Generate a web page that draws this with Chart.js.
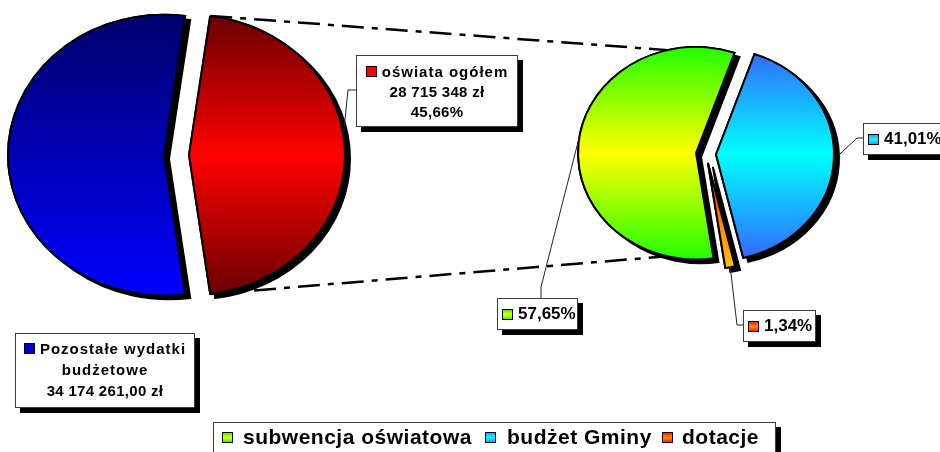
<!DOCTYPE html>
<html>
<head>
<meta charset="utf-8">
<script src="https://cdn.jsdelivr.net/npm/chart.js@4.4.0/dist/chart.umd.min.js"></script>
<style>
body { margin: 0; background: #fff; }
#wrap { position: relative; width: 940px; height: 452px; overflow: hidden; font-family: 'Liberation Sans', Arial, sans-serif; font-weight: bold; color: #000; }
#wrap canvas { position: absolute; left: 0; top: 0; }
.box { position: absolute; box-sizing: border-box; background: #fff; border: 1px solid #3a3a3a; box-shadow: 5px 5px 0 #000; }
.sw { display: inline-block; box-sizing: border-box; width: 11px; height: 11px; border: 1px solid #000; }
.txt { font-size: 15px; line-height: 20px; text-align: center; }
.txt .w { letter-spacing: 1px; }
.txt .n { letter-spacing: 0.3px; }
.pct { display: flex; align-items: center; font-size: 17px; height: 32px; padding-left: 4px; }
.pct .sw { margin-right: 5px; }
.legend { font-size: 21px; letter-spacing: 0.5px; }
.legend span { position: absolute; }
</style>
</head>
<body>
<div id="wrap">
  <canvas id="mainPie" width="940" height="452"></canvas>
  <canvas id="eduPie" width="940" height="452"></canvas>
  <div id="labels"></div>
</div>
<script>
// Values
const mainLabels = ['Pozostałe wydatki budżetowe', 'oświata ogółem'];
const mainValues = [34174261.00, 28715348];
const eduLabels = ['subwencja oświatowa', 'budżet Gminy', 'dotacje'];
const eduShares = [57.65, 41.01, 1.34];

// Slice styling
const mainFills = [
    [[0, '#00006c'], [1, '#0000ff']],
    [[0, '#6a0000'], [0.5, '#ff0000'], [1, '#6a0000']]
];
const eduFills = [
    [[0, '#22ff00'], [0.5, '#ffff00'], [1, '#22ff00']],
    [[0, '#3366ff'], [0.5, '#00ffff'], [1, '#3366ff']],
    [[0, '#ff0000'], [0.55, '#ff1a00'], [0.8, '#ff8c00'], [1, '#ffc400']]
];
const eduSwatches = [
    'linear-gradient(#33ff00, #eeff00, #33ff00)',
    'linear-gradient(#3399ff, #00ffff, #3399ff)',
    'linear-gradient(#ff2000, #ff9000, #ff2000)'
];
const mainExplode = [0, 25];
const eduExplode = [10, 10, 10];
const SQUASH = 0.9;

function fmtZl(v, dec) {
    const parts = v.toFixed(dec).split('.');
    const whole = parts[0].replace(/\B(?=(\d{3})+(?!\d))/g, ' ');
    return (parts[1] ? whole + ',' + parts[1] : whole) + ' zł';
}
function fmtPct(v) {
    return v.toFixed(2).replace('.', ',') + '%';
}

function gradientFill(fills) {
    return function(c) {
        const chart = c.chart;
        const area = chart.chartArea;
        const stops = fills[c.dataIndex];
        if (!area || !stops) return stops ? stops[0][1] : '#000';
        const cy = (area.top + area.bottom) / 2;
        const r = c.dataset.radius;
        const g = chart.ctx.createLinearGradient(0, cy - r, 0, cy + r);
        stops.forEach(s => g.addColorStop(s[0], s[1]));
        return g;
    };
}

// draws each slice squashed into an ellipse, pulled out and with a hard shadow
const ellipsePie = {
    id: 'ellipsePie',
    beforeDatasetDraw(chart, args) {
        const ctx = chart.ctx;
        const ds = chart.data.datasets[args.index];
        [true, false].forEach(shadow => {
            args.meta.data.forEach((arc, i) => {
                const mid = (arc.startAngle + arc.endAngle) / 2;
                const d = ds.explode[i] || 0;
                ctx.save();
                ctx.translate(arc.x, arc.y);
                ctx.scale(1, SQUASH);
                ctx.translate(-arc.x, -arc.y);
                ctx.translate(Math.cos(mid) * d, Math.sin(mid) * d);
                if (shadow) {
                    ctx.shadowColor = '#000';
                    ctx.shadowOffsetX = 5;
                    ctx.shadowOffsetY = 4;
                }
                arc.draw(ctx);
                ctx.restore();
            });
        });
        return false;
    }
};

function edgeAt(chart, index, angle) {
    const arc = chart.getDatasetMeta(0).data[index];
    const d = chart.data.datasets[0].explode[index] || 0;
    const mid = (arc.startAngle + arc.endAngle) / 2;
    return {
        x: arc.x + Math.cos(mid) * d + Math.cos(angle) * arc.outerRadius,
        y: arc.y + (Math.sin(mid) * d + Math.sin(angle) * arc.outerRadius) * SQUASH
    };
}
function edgeFrac(chart, index, f) {
    const arc = chart.getDatasetMeta(0).data[index];
    return edgeAt(chart, index, arc.startAngle + f * (arc.endAngle - arc.startAngle));
}

function pieChart(id, labels, values, fills, rotation, radius, explode, padding, extra) {
    return new Chart(document.getElementById(id), {
        type: 'pie',
        data: {
            labels: labels,
            datasets: [{
                data: values,
                radius: radius,
                rotation: rotation,
                explode: explode,
                backgroundColor: gradientFill(fills),
                borderColor: '#000',
                borderWidth: 2,
                borderJoinStyle: 'miter',
                clip: false
            }]
        },
        options: {
            responsive: false,
            animation: false,
            events: [],
            layout: { padding: padding },
            plugins: { legend: { display: false }, tooltip: { enabled: false } }
        },
        plugins: [ellipsePie].concat(extra || [])
    });
}

const mainTotal = mainValues[0] + mainValues[1];
const eduDeg = mainValues[1] / mainTotal * 360;
const mainChart = pieChart('mainPie', mainLabels, mainValues, mainFills,
    90 + eduDeg / 2, 156, mainExplode, { left: 0, top: 0, right: 612, bottom: 142 });

// leader lines: start on slice edge, then elbow/end points next to the boxes
const leaders = [
    { chart: 'main', slice: 1, at: 0.45, path: [[348, 90], [356, 90]] },
    { chart: 'edu', slice: 0, at: 0.52, path: [[541, 287], [541, 298]] },
    { chart: 'edu', slice: 1, at: 0.5, path: [[857, 138], [863, 138]] },
    { chart: 'edu', slice: 2, at: 0.5, path: [[737, 325], [743, 325]] }
];

const annotations = {
    id: 'annotations',
    afterDraw(chart) {
        const ctx = chart.ctx;
        ctx.save();
        // dash-dot connectors between the pies
        ctx.strokeStyle = '#000';
        ctx.lineWidth = 2.5;
        ctx.setLineDash([22, 8, 6, 8]);
        const a1 = edgeFrac(mainChart, 1, 0), b1 = edgeAt(chart, 0, -104 * Math.PI / 180);
        const a2 = edgeFrac(mainChart, 1, 1), b2 = edgeAt(chart, 0, 104 * Math.PI / 180);
        ctx.beginPath();
        ctx.moveTo(a1.x, a1.y); ctx.lineTo(b1.x, b1.y);
        ctx.moveTo(a2.x, a2.y); ctx.lineTo(b2.x, b2.y);
        ctx.stroke();
        // leader lines
        ctx.setLineDash([]);
        ctx.lineWidth = 1;
        ctx.strokeStyle = '#222';
        leaders.forEach(l => {
            const p = edgeFrac(l.chart === 'main' ? mainChart : chart, l.slice, l.at);
            ctx.beginPath();
            ctx.moveTo(p.x, p.y);
            l.path.forEach(q => ctx.lineTo(q[0], q[1]));
            ctx.stroke();
        });
        ctx.restore();
    }
};

const eduChart = pieChart('eduPie', eduLabels, eduShares, eduFills,
    171.5, 118, eduExplode, { left: 472, top: 0, right: 0, bottom: 144 }, [annotations]);

// label boxes
const labels = document.getElementById('labels');
function addBox(cls, pos, html) {
    const el = document.createElement('div');
    el.className = 'box ' + cls;
    el.style.left = pos[0] + 'px';
    el.style.top = pos[1] + 'px';
    el.style.width = pos[2] + 'px';
    el.style.height = pos[3] + 'px';
    el.innerHTML = html;
    labels.appendChild(el);
    return el;
}

const oswiata = addBox('txt', [356, 55, 162, 72],
    '<span class="sw" style="background:#ff0000;margin-right:5px"></span><span class="w">' + mainLabels[1] +
    '</span><br><span class="n">' + fmtZl(mainValues[1], 0) + '</span><br><span class="n">' +
    fmtPct(mainValues[1] / mainTotal * 100) + '</span>');
oswiata.style.paddingTop = '6px';

const pozostale = addBox('txt', [15, 333, 180, 75],
    '<span class="sw" style="background:#0000cc;margin-right:5px"></span><span class="w">' + mainLabels[0] +
    '</span><br><span class="n">' + fmtZl(mainValues[0], 2) + '</span>');
pozostale.style.paddingTop = '4px';
pozostale.style.lineHeight = '21px';

const pctBoxes = [[497, 298, 81], [863, 123, 90], [743, 310, 73]];
eduShares.forEach((v, i) => {
    const b = pctBoxes[i];
    addBox('pct', [b[0], b[1], b[2], 32],
        '<span class="sw" style="background:' + eduSwatches[i] + '"></span>' + fmtPct(v));
});

// legend
const legend = addBox('legend', [213, 422, 563, 40], '');
const legendPos = [[8, 29], [271, 293], [448, 468]];
eduLabels.forEach((name, i) => {
    const sw = document.createElement('span');
    sw.className = 'sw';
    sw.style.left = legendPos[i][0] + 'px';
    sw.style.top = '9px';
    sw.style.background = eduSwatches[i];
    legend.appendChild(sw);
    const t = document.createElement('span');
    t.textContent = name;
    t.style.left = legendPos[i][1] + 'px';
    t.style.top = '1px';
    t.style.lineHeight = '26px';
    legend.appendChild(t);
});
</script>
</body>
</html>
